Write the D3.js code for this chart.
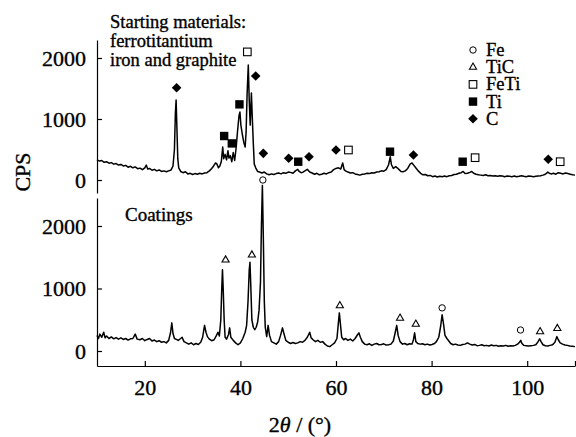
<!DOCTYPE html>
<html><head><meta charset="utf-8">
<script src="https://cdn.jsdelivr.net/npm/d3@7"></script>
<style>body{margin:0;background:#fff} svg{display:block} text{font-family:"Liberation Serif","Times New Roman",serif;fill:#000;stroke:#000;stroke-width:0.35px}</style>
</head><body><svg id="c" width="576" height="437"></svg>
<script>
// Starting materials pattern [2theta, CPS]
const startPattern = [[10,330],[10.5,310],[11,320],[11.5,290],[12,300],[12.5,275],[13,285],[13.5,260],[14,270],[14.5,245],[15,255],[15.5,230],[16,240],[16.5,210],[17,225],[17.5,200],[18,215],[18.5,185],[19,195],[19.5,170],[20,200],[20.3,245],[20.6,180],[21,190],[21.5,160],[22,175],[22.5,150],[23,165],[23.5,140],[24,150],[24.5,135],[25,150],[25.5,165],[25.9,230],[26.2,500],[26.4,1100],[26.55,1310],[26.7,900],[26.9,350],[27.1,200],[27.5,140],[28,120],[28.5,135],[29,100],[29.5,110],[30,90],[30.5,105],[31,95],[31.5,110],[32,100],[32.5,115],[33,120],[33.5,150],[34,190],[34.4,230],[34.8,280],[35.1,260],[35.4,200],[35.7,230],[36,300],[36.3,540],[36.5,350],[36.8,420],[37.1,330],[37.4,480],[37.6,360],[37.9,400],[38.2,300],[38.5,450],[38.8,320],[39.1,520],[39.4,800],[39.7,1050],[39.9,1115],[40.1,900],[40.4,750],[40.7,620],[41,540],[41.2,800],[41.4,1400],[41.65,1885],[41.85,1300],[42.05,900],[42.3,1425],[42.5,1000],[42.7,600],[42.9,260],[43.2,200],[43.6,140],[44,130],[44.5,115],[45,130],[45.5,100],[46,85],[46.5,100],[47,90],[47.5,105],[48,115],[48.5,100],[49,120],[49.5,110],[50,130],[50.5,125],[51,110],[51.5,150],[52,175],[52.3,140],[52.7,120],[53,125],[53.5,150],[54,175],[54.5,130],[55,115],[55.5,95],[56,110],[56.5,85],[57,95],[57.5,110],[58,100],[58.5,120],[59,130],[59.5,170],[60,190],[60.5,200],[61,180],[61.4,280],[61.7,170],[62,150],[62.5,130],[63,115],[63.5,120],[64,100],[64.5,90],[65,80],[65.5,95],[66,100],[66.5,110],[67,105],[67.5,120],[68,115],[68.5,130],[69,135],[69.5,150],[70,145],[70.5,170],[71,250],[71.35,380],[71.6,250],[72,190],[72.5,220],[72.8,200],[73.2,170],[73.6,140],[74,135],[74.5,150],[75,190],[75.5,260],[75.9,280],[76.3,240],[76.8,190],[77.2,150],[77.7,110],[78.2,85],[78.7,90],[79.2,70],[79.7,75],[80.2,55],[80.7,65],[81.2,50],[81.7,60],[82.2,55],[82.7,65],[83.2,55],[83.7,70],[84.2,75],[84.7,90],[85.2,95],[85.7,110],[86.2,120],[86.6,140],[87,105],[87.5,110],[88,125],[88.4,140],[88.8,110],[89.3,95],[89.8,85],[90.3,80],[90.8,75],[91.3,85],[91.8,70],[92.3,75],[92.8,65],[93.3,70],[93.8,60],[94.3,70],[94.8,65],[95.3,55],[95.8,65],[96.3,60],[96.8,55],[97.3,65],[97.8,55],[98.3,60],[98.8,70],[99.3,60],[99.8,55],[100.3,65],[100.8,60],[101.3,55],[101.8,60],[102.3,65],[102.8,70],[103.3,80],[103.8,95],[104.3,130],[104.6,110],[105,100],[105.5,110],[106,95],[106.5,120],[107,110],[107.5,100],[108,115],[108.5,105],[109,95],[109.5,85],[110,80]];

// Coatings pattern [2theta, CPS]
const coatingPattern = [[10,250],[10.3,200],[10.6,270],[11,220],[11.4,300],[11.7,210],[12,240],[12.5,200],[13,225],[13.5,195],[14,215],[14.5,190],[15,210],[15.5,185],[16,200],[16.5,175],[17,195],[17.5,200],[18,270],[18.4,190],[19,180],[19.5,200],[20,165],[20.5,185],[21,200],[21.5,160],[22,175],[22.5,150],[23,165],[23.5,140],[24,150],[24.5,130],[25,170],[25.4,300],[25.65,450],[25.9,280],[26.2,200],[26.6,185],[27,170],[27.5,200],[27.8,220],[28.2,150],[28.7,130],[29.2,110],[29.7,130],[30.2,100],[30.7,120],[31.2,105],[31.7,140],[32.1,220],[32.5,410],[32.8,300],[33.1,230],[33.5,190],[34,165],[34.5,180],[35,250],[35.3,300],[35.6,240],[35.9,500],[36.1,1000],[36.25,1300],[36.4,1000],[36.6,500],[36.8,220],[37.1,190],[37.5,260],[37.75,370],[38,220],[38.5,170],[39,130],[39.5,100],[40,130],[40.5,200],[41,300],[41.3,410],[41.6,800],[41.85,1300],[42,1420],[42.15,1100],[42.4,500],[42.7,380],[43,340],[43.3,380],[43.6,460],[43.9,650],[44.2,1100],[44.4,2000],[44.6,2650],[44.8,1800],[45,800],[45.2,380],[45.5,230],[45.8,410],[46.1,250],[46.5,150],[47,130],[47.5,110],[48,150],[48.4,250],[48.8,370],[49.1,280],[49.5,170],[50,140],[50.5,120],[51,135],[51.5,120],[52,130],[52.5,150],[53,140],[53.5,170],[54,220],[54.5,300],[54.8,210],[55.2,180],[55.7,150],[56.2,170],[56.7,140],[57.2,150],[57.7,110],[58.2,80],[58.7,70],[59.2,100],[59.7,130],[60.2,200],[60.5,450],[60.7,610],[60.9,450],[61.2,220],[61.6,180],[62,200],[62.5,170],[63,190],[63.5,160],[64,200],[64.5,260],[64.8,290],[65.1,220],[65.5,150],[66,110],[66.5,100],[67,115],[67.5,90],[68,110],[68.5,120],[69,100],[69.5,105],[70,115],[70.5,95],[71,100],[71.5,110],[72,160],[72.4,300],[72.7,410],[73,250],[73.4,150],[73.9,110],[74.4,120],[74.9,100],[75.4,115],[75.9,110],[76.2,180],[76.45,290],[76.7,150],[77.1,120],[77.6,110],[78.1,115],[78.6,100],[79.1,110],[79.6,95],[80.1,105],[80.6,120],[81,150],[81.5,220],[81.9,400],[82.2,580],[82.5,430],[82.8,250],[83.2,200],[83.6,160],[84,120],[84.5,100],[85,110],[85.5,95],[86,90],[86.5,105],[87,110],[87.5,130],[88,110],[88.5,95],[89,105],[89.5,85],[90,90],[90.5,100],[91,85],[91.5,90],[92,80],[92.5,95],[93,85],[93.5,90],[94,75],[94.5,85],[95,80],[95.5,90],[96,75],[96.5,85],[97,80],[97.5,90],[98,110],[98.4,140],[98.65,170],[98.9,120],[99.3,90],[99.8,85],[100.3,80],[100.8,85],[101.3,90],[101.8,100],[102.2,140],[102.6,195],[102.9,150],[103.3,100],[103.8,85],[104.3,80],[104.8,90],[105.3,100],[105.8,140],[106.2,230],[106.5,180],[106.9,130],[107.4,110],[107.9,95],[108.4,90],[108.9,80],[109.4,75],[110,70]];

// Phase markers [2theta, CPS position, phase]
const startMarkers = [[26.65,1513,"C"],[36.6,721,"Ti"],[38.2,600,"Ti"],[39.8,1240,"Ti"],[41.45,2100,"FeTi"],[43.2,1705,"C"],[44.8,437,"C"],[50.1,356,"C"],[52.1,300,"Ti"],[54.35,382,"C"],[60.0,492,"C"],[62.6,492,"FeTi"],[71.3,464,"Ti"],[76.2,410,"C"],[86.5,300,"Ti"],[89.1,366,"FeTi"],[104.4,340,"C"],[106.9,300,"FeTi"]];
const coatingMarkers = [[36.9,1456,"TiC"],[42.4,1536,"TiC"],[44.7,2736,"Fe"],[60.8,725,"TiC"],[73.4,525,"TiC"],[76.7,430,"TiC"],[82.2,690,"Fe"],[98.6,336,"Fe"],[102.7,310,"TiC"],[106.3,360,"TiC"]];

const legendPhases = ["Fe","TiC","FeTi","Ti","C"];
const xTicks = [20,40,60,80,100,110];
const xTickLabels = ["20","40","60","80","100",""];
const yTicks = [0,1000,2000];
const startTitle = ["Starting materials:","ferrotitantium","iron and graphite"];
const coatingTitle = "Coatings";

const svg = d3.select("#c");
const x = d3.scaleLinear().domain([10,110]).range([97,575]);
const yTop = d3.scaleLinear().domain([-213,2295]).range([193,40]);
const yBot = d3.scaleLinear().domain([-240,2448]).range([366,198]);

function yAxis(scale){
  return d3.axisLeft(scale).tickValues(yTicks).tickSize(-5).tickSizeOuter(0).tickPadding(11).tickFormat(d3.format("d"));
}
[yTop,yBot].forEach(s=>{
  const g = svg.append("g").attr("transform","translate(97,0)").call(yAxis(s));
  g.selectAll("text").style("font-size","22px");
  g.selectAll("path,line").attr("stroke","#000").attr("stroke-width",1.2);
});
const gx = svg.append("g").attr("transform","translate(0,366)")
  .call(d3.axisBottom(x).tickValues(xTicks).tickSize(-5).tickSizeOuter(0).tickPadding(13)
  .tickFormat((d,i)=>xTickLabels[i]));
gx.selectAll("text").style("font-size","22px");
gx.selectAll("path,line").attr("stroke","#000").attr("stroke-width",1.2);

function drawLine(data, ys){
  svg.append("path").datum(data)
    .attr("d", d3.line().x(d=>x(d[0])).y(d=>ys(d[1])))
    .attr("fill","none").attr("stroke","#000").attr("stroke-width",1.5).attr("stroke-linejoin","round");
}
drawLine(startPattern, yTop);
drawLine(coatingPattern, yBot);

function symbolFor(phase, g){
  if(phase==="Fe") g.append("circle").attr("r",3.2).attr("fill","none").attr("stroke","#000").attr("stroke-width",1);
  else if(phase==="TiC") g.append("path").attr("d",d3.symbol(d3.symbolTriangle,22)()).attr("fill","none").attr("stroke","#000").attr("stroke-width",1.1);
  else if(phase==="FeTi") g.append("rect").attr("x",-3.8).attr("y",-3.8).attr("width",7.6).attr("height",7.6).attr("fill","none").attr("stroke","#000").attr("stroke-width",1.1);
  else if(phase==="Ti") g.append("rect").attr("x",-4.2).attr("y",-4.2).attr("width",8.4).attr("height",8.4).attr("fill","#000");
  else if(phase==="C") g.append("rect").attr("x",-3.4).attr("y",-3.4).attr("width",6.8).attr("height",6.8).attr("transform","rotate(45)").attr("fill","#000");
}
function drawMarkers(list, ys){
  list.forEach(m=>{
    const g = svg.append("g").attr("transform",`translate(${x(m[0])},${ys(m[1])})`);
    symbolFor(m[2], g);
  });
}
drawMarkers(startMarkers, yTop);
drawMarkers(coatingMarkers, yBot);

// legend
legendPhases.forEach((p,i)=>{
  const yy = 50 + i*17.2;
  const g = svg.append("g").attr("transform",`translate(473,${yy})`);
  symbolFor(p,g);
  svg.append("text").attr("x",486).attr("y",yy+6).style("font-size","18.5px").text(p);
});

// titles
startTitle.forEach((t,i)=>{
  svg.append("text").attr("x",110).attr("y",28+i*19).style("font-size","18.5px").text(t);
});
svg.append("text").attr("x",125).attr("y",221).style("font-size","19px").text(coatingTitle);

// axis titles
svg.append("text").attr("transform","translate(30,172) rotate(-90)").attr("text-anchor","middle").style("font-size","22px").text("CPS");
const xl = svg.append("text").attr("x",300).attr("y",432).attr("text-anchor","middle").style("font-size","22px");
xl.append("tspan").text("2");
xl.append("tspan").style("font-style","italic").text("θ");
xl.append("tspan").text(" / (°)");
</script></body></html>
